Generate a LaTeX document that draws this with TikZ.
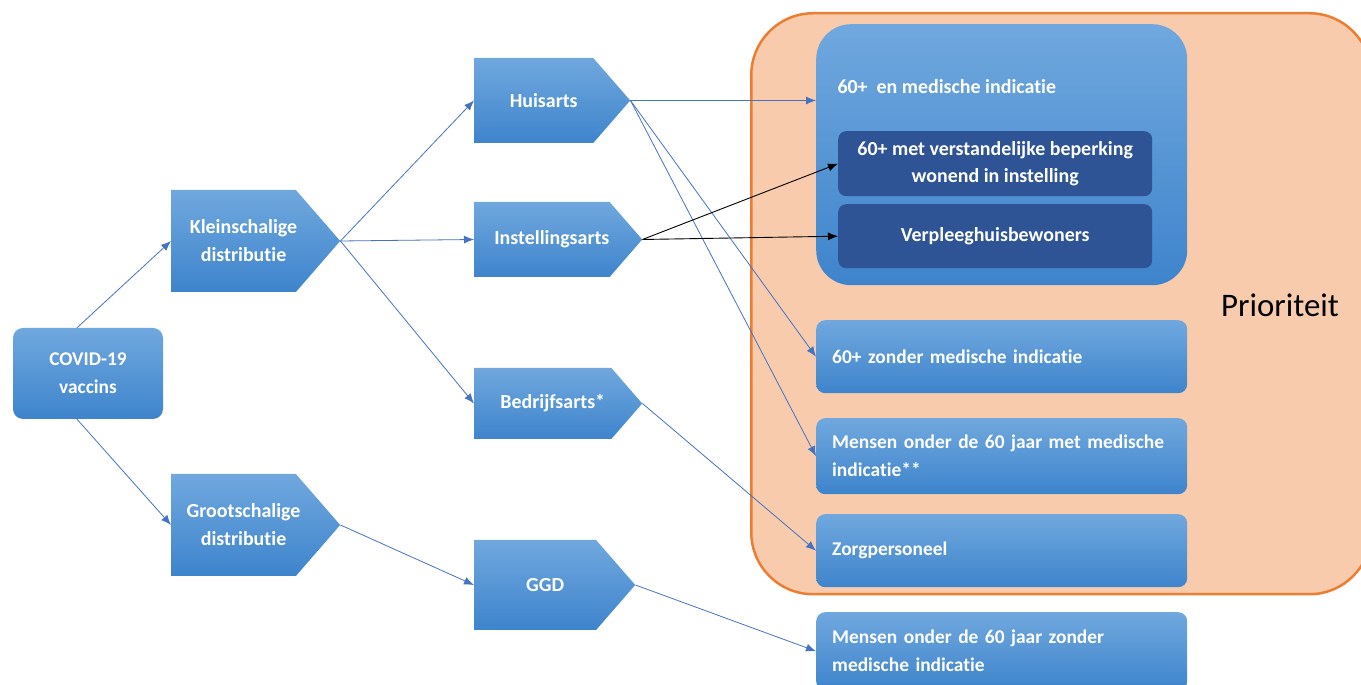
\documentclass[tikz,border=0pt]{standalone}
\usepackage{fontspec}
\setmainfont{Carlito}[Ligatures=NoCommon]
\usetikzlibrary{shapes.symbols,arrows.meta}
\definecolor{boxtop}{RGB}{112,168,222}
\definecolor{boxbot}{RGB}{62,132,204}
\definecolor{darkbox}{RGB}{46,84,150}
\definecolor{priofill}{RGB}{248,203,173}
\definecolor{prioline}{RGB}{237,125,49}
\definecolor{arrowcol}{RGB}{68,114,196}
\newcommand{\shifted}[1]{\rlap{\hspace*{10bp}#1}\phantom{#1}}
\tikzset{
  bluebox/.style={draw=none,top color=boxtop,bottom color=boxbot,text=white,
    font=\bfseries\fontsize{19.5}{28}\selectfont},
  chevron/.style={bluebox,shape=signal,signal to=east,signal pointer angle=98,
    inner sep=0pt,align=center,anchor=west,font=\bfseries\fontsize{20}{28}\selectfont},
  groupbox/.style={bluebox,rectangle,rounded corners=9bp,minimum width=371bp,
    text width=339bp,align=left,inner xsep=16bp,anchor=north west},
  innerbox/.style={draw=none,fill=darkbox,rectangle,rounded corners=8bp,text=white,
    font=\bfseries\fontsize{20}{28}\selectfont,minimum width=314bp,align=center,anchor=north west},
  link/.style={->,draw=arrowcol,line width=0.8bp},
  blacklink/.style={->,draw=black,line width=0.9bp},
}
\begin{document}
\begin{tikzpicture}[>={Latex[length=10bp,width=8bp]},line join=bevel]
\useasboundingbox (0bp,0bp) rectangle (1361bp,685bp);
%%
  \node (Prio) at (750bp,673bp) [anchor=north west,draw=prioline,line width=2.5bp,fill=priofill,
    rectangle,rounded corners=62bp,minimum width=620bp,minimum height=581bp] {};
  \node (PrioText) at (1280bp,380bp) [font=\fontsize{33}{38}\selectfont] {Prioriteit};
%%
  \node (COVID) at (88bp,311.5bp) [bluebox,rectangle,rounded corners=10bp,minimum width=150bp,
    minimum height=91bp,align=center] {COVID-19\\vaccins};
  \node (Klein) at (171bp,444bp) [chevron,minimum width=169bp,minimum height=102bp] {\shifted{Kleinschalige}\\\shifted{distributie}};
  \node (Groot) at (171bp,160bp) [chevron,minimum width=169bp,minimum height=102bp] {\shifted{Grootschalige}\\\shifted{distributie}};
  \node (Huis) at (474bp,584.5bp) [chevron,minimum width=156bp,minimum height=85bp] {\shifted{Huisarts}};
  \node (Inst) at (474bp,445.5bp) [chevron,minimum width=168bp,minimum height=75bp] {\shifted{Instellingsarts}};
  \node (Bedr) at (474bp,281.5bp) [chevron,minimum width=168bp,minimum height=71bp] {\shifted{Bedrijfsarts*}};
  \node (GGD) at (474bp,100bp) [chevron,minimum width=161bp,minimum height=90bp] {\shifted{GGD}};
%%
  \node (Big) at (816bp,661bp) [bluebox,rectangle,rounded corners=35bp,anchor=north west,
    minimum width=371bp,minimum height=261bp] {};
  \node (BigText) at (834bp,598bp) [anchor=west,text=white,font=\bfseries\fontsize{20}{28}\selectfont] {60+\ \ en medische indicatie};
  \node (Instel) at (838bp,554bp) [innerbox,minimum height=65bp] {60+ met verstandelijke beperking\\wonend in instelling};
  \node (Verpl) at (838bp,481bp) [innerbox,minimum height=64bp] {Verpleeghuisbewoners};
  \node (Zonder) at (816bp,365bp) [groupbox,minimum height=73bp] {60+ zonder medische indicatie};
  \node (Met) at (816bp,267bp) [groupbox,minimum height=76bp] {Mensen onder de 60 jaar met medische indicatie**};
  \node (Zorg) at (816bp,171bp) [groupbox,minimum height=73bp] {Zorgpersoneel};
  \node (Rest) at (816bp,73bp) [groupbox,minimum height=78bp] {Mensen onder de 60 jaar zonder\\medische indicatie};
%%
  \draw [link] ([xshift=-11bp]COVID.north) -- (Klein.west);
  \draw [link] ([xshift=-11bp]COVID.south) -- (Groot.west);
  \draw [link] (Klein.east) -- (Huis.west);
  \draw [link] (Klein.east) -- (Inst.west);
  \draw [link] (Klein.east) -- (Bedr.west);
  \draw [link] (Groot.east) -- (GGD.west);
  \draw [link] (Huis.east) -- (Huis.east -| Big.west);
  \draw [link] (Huis.east) -- (Zonder.west);
  \draw [link] (Huis.east) -- (Met.west);
  \draw [blacklink] (Inst.east) -- (Instel.west);
  \draw [blacklink] (Inst.east) -- (Verpl.west);
  \draw [link] (Bedr.east) -- (Zorg.west);
  \draw [link] (GGD.east) -- (Rest.west);
%
\end{tikzpicture}
\end{document}
